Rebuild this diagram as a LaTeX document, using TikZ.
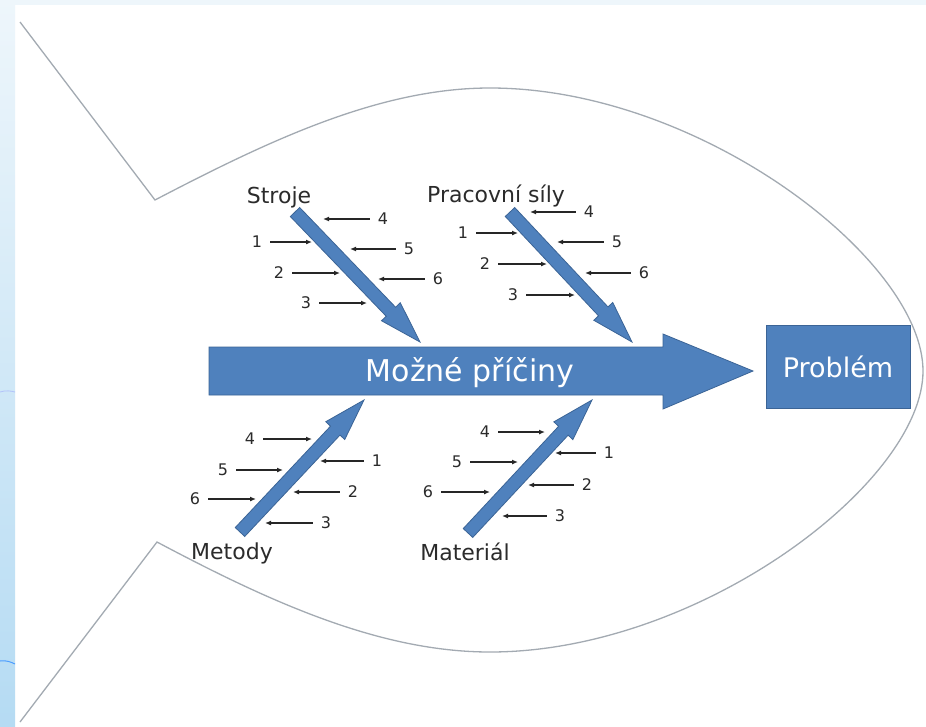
\documentclass[tikz,border=0pt]{standalone}
\usepackage{fontspec}
\setmainfont{DejaVu Sans}
\usetikzlibrary{calc,arrows.meta}
\definecolor{boneblue}{HTML}{4F81BD}
\definecolor{boneedge}{HTML}{3B6496}
\definecolor{fishline}{HTML}{A3AAB2}
\definecolor{labelgray}{HTML}{2B2B2B}
\definecolor{stripA}{HTML}{EEF6FB}
\definecolor{stripB}{HTML}{B5DBF3}
\tikzset{
  bone/.style={fill=boneblue, draw=boneedge, line width=0.8pt, line join=miter},
  catlabel/.style={text=labelgray, font=\fontsize{22}{26}\selectfont, inner sep=0pt},
  num/.style={text=labelgray, font=\fontsize{16}{19}\selectfont, inner sep=2pt},
  cause/.style={draw=black!85, line width=1.3pt, shorten <=6pt, -{Latex[length=6pt,width=5pt]}},
  fish/.style={draw=fishline, line width=1.3pt, line join=miter},
}
\newcommand\fatarrow[2]{%
  \coordinate (hb) at ($(#2)!42pt!(#1)$);
  \draw[bone] ($(#1)!6.5pt!90:(#2)$) -- ($(hb)!6.5pt!90:(#2)$) -- ($(hb)!13pt!90:(#2)$) -- (#2)
    -- ($(hb)!13pt!-90:(#2)$) -- ($(hb)!6.5pt!-90:(#2)$) -- ($(#1)!6.5pt!-90:(#2)$) -- cycle;}
\newcommand\cause[5]{%
  \node[num] (#1) at (#2,#3) {#5};
  \coordinate (#1e) at (#4,#3);
  \draw[cause] (#1) -- (#1e);}
\begin{document}
\begin{tikzpicture}[x=1pt,y=-1pt]
\useasboundingbox (0,0) rectangle (926,726);
\fill[white] (0,0) rectangle (926,726);
\shade[top color=stripA, bottom color=stripB] (0,0) rectangle (15,726);
\fill[stripA] (15,0) rectangle (926,5);
\draw[stripB!70!blue!60, line width=0.8pt] (0,392) .. controls (6,390) and (11,391) .. (15,392);
\draw[blue!55!cyan!70, line width=1pt] (0,661) .. controls (6,660) and (11,662) .. (15,664);

% fish outline
\draw[fish] (20,22) -- (155,200) .. controls (270,140) and (380,88) .. (490,88)
  .. controls (700,88) and (923,260) .. (923,371)
  .. controls (923,482) and (700,652) .. (490,652)
  .. controls (380,652) and (270,602) .. (157,542) -- (20,722);

% spine
\coordinate (spineL) at (209,371);
\coordinate (spineR) at (753,371);
\draw[bone] ($(spineL)+(0,-24)$) -- (663,347) -- (663,334) -- (spineR) -- (663,409) -- (663,395) -- ($(spineL)+(0,24)$) -- cycle;
\node[text=white, font=\fontsize{30}{36}\selectfont, inner sep=0pt] (causes) at (470,373) {Možné příčiny};
\node[bone, minimum width=144pt, minimum height=83pt, inner sep=0pt, text=white,
  font=\fontsize{27}{32}\selectfont] (problem) at (838,366.5) {Problém};

% category labels
\node[catlabel] (stroje) at (279,197) {Stroje};
\node[catlabel] (pracovni) at (496,196) {Pracovní síly};
\node[catlabel] (metody) at (232,553) {Metody};
\node[catlabel] (material) at (465,552) {Materiál};

% bones
\coordinate (st-t) at (295,212); \coordinate (st-h) at (420,342);
\coordinate (pr-t) at (510,212); \coordinate (pr-h) at (632,342);
\coordinate (me-t) at (240,532); \coordinate (me-h) at (364,400);
\coordinate (ma-t) at (468,533); \coordinate (ma-h) at (592,400);
\fatarrow{st-t}{st-h}
\fatarrow{pr-t}{pr-h}
\fatarrow{me-t}{me-h}
\fatarrow{ma-t}{ma-h}

% causes: Stroje
\cause{st4}{383}{219}{323}{4}
\cause{st1}{257}{242}{312}{1}
\cause{st5}{409}{249}{350}{5}
\cause{st2}{279}{273}{340}{2}
\cause{st6}{438}{279}{378}{6}
\cause{st3}{306}{303}{367}{3}
% Pracovni sily
\cause{pr4}{589}{212}{530}{4}
\cause{pr1}{463}{233}{518}{1}
\cause{pr5}{617}{242}{557}{5}
\cause{pr2}{485}{264}{547}{2}
\cause{pr6}{644}{273}{585}{6}
\cause{pr3}{513}{295}{575}{3}
% Metody
\cause{me4}{250}{439}{312}{4}
\cause{me1}{377}{461}{320}{1}
\cause{me5}{223}{470}{283}{5}
\cause{me2}{353}{492}{293}{2}
\cause{me6}{195}{499}{256}{6}
\cause{me3}{326}{523}{265}{3}
% Material
\cause{ma4}{485}{432}{545}{4}
\cause{ma1}{609}{453}{555}{1}
\cause{ma5}{457}{462}{518}{5}
\cause{ma2}{587}{485}{528}{2}
\cause{ma6}{428}{492}{490}{6}
\cause{ma3}{560}{516}{502}{3}
\end{tikzpicture}
\end{document}
